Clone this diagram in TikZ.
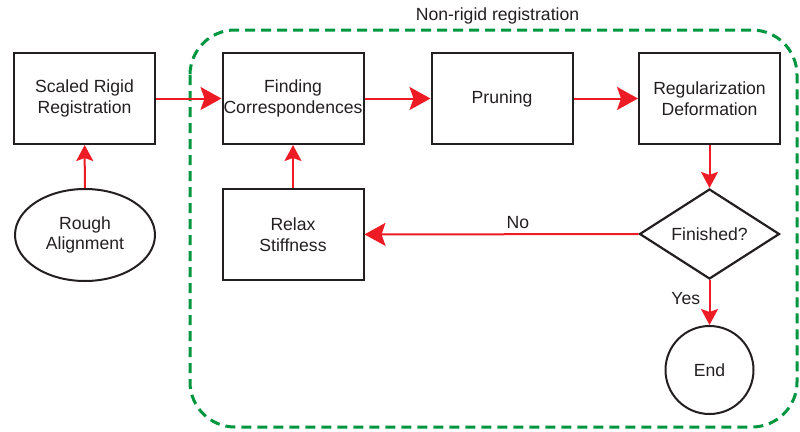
\documentclass[tikz,border=0pt]{standalone}
\usepackage{fontspec}
\setmainfont{Liberation Sans}
\usetikzlibrary{shapes.geometric,arrows.meta}
\definecolor{flowred}{RGB}{237,28,36}
\definecolor{groupgreen}{RGB}{0,150,64}
\definecolor{edgegray}{RGB}{35,31,32}
\begin{document}
\begin{tikzpicture}[x=1pt,y=-1pt,
  every node/.style={font=\fontsize{17.6}{20.5}\selectfont, text=edgegray, align=center},
  stepbox/.style={draw=edgegray, line width=2pt, minimum width=141pt, minimum height=91pt, inner sep=0pt},
  startnode/.style={draw=edgegray, line width=2pt, ellipse, minimum width=140pt, minimum height=92pt, inner sep=0pt},
  decision/.style={draw=edgegray, line width=2.2pt, diamond, minimum width=140pt, minimum height=90pt, inner sep=0pt},
  endnode/.style={draw=edgegray, line width=2pt, circle, minimum size=88pt, inner sep=0pt},
  bigflow/.style={draw=flowred, line width=2pt, -{Stealth[length=21pt,width=23pt,inset=4pt]}},
  smallflow/.style={draw=flowred, line width=2pt, -{Stealth[length=16pt,width=17pt,inset=3pt]}},
  group/.style={draw=groupgreen, line width=3pt, dash pattern=on 10pt off 6pt, rounded corners=45pt}
]
\useasboundingbox (0,0) rectangle (800,431);

% dashed frame around the iterative part
\draw[group] (190,30) rectangle (797,427);
\node (grouplabel) at (497.5,16) {Non-rigid registration};

% process steps
\node[stepbox]   (rigid)   at (84.5,98.5)  {Scaled Rigid\\Registration};
\node[stepbox]   (corr)    at (293,98.5)   {Finding\\Correspondences};
\node[stepbox]   (prune)   at (502,98.5)   {Pruning};
\node[stepbox]   (reg)     at (709.5,98.5) {Regularization\\Deformation};
\node[stepbox]   (relax)   at (293,234.5)  {Relax\\Stiffness};
\node[startnode] (rough)   at (85,235)     {Rough\\Alignment};
\node[decision]  (done)    at (709.5,234)  {Finished?};
\node[endnode]   (finish)  at (709.5,370)  {End};

% connectors
\draw[smallflow] (rough) -- (rigid);
\draw[bigflow]   (rigid) -- (corr);
\draw[bigflow]   (corr) -- (prune);
\draw[bigflow]   (prune) -- (reg);
\draw[smallflow] (reg) -- (done);
\draw[bigflow]   (done) -- node[above=1pt, pos=0.44] (nolabel) {No} (relax);
\draw[smallflow] (relax) -- (corr);
\draw[smallflow] (done) -- node[left=5pt, pos=0.4] (yeslabel) {Yes} (finish);
\end{tikzpicture}
\end{document}
